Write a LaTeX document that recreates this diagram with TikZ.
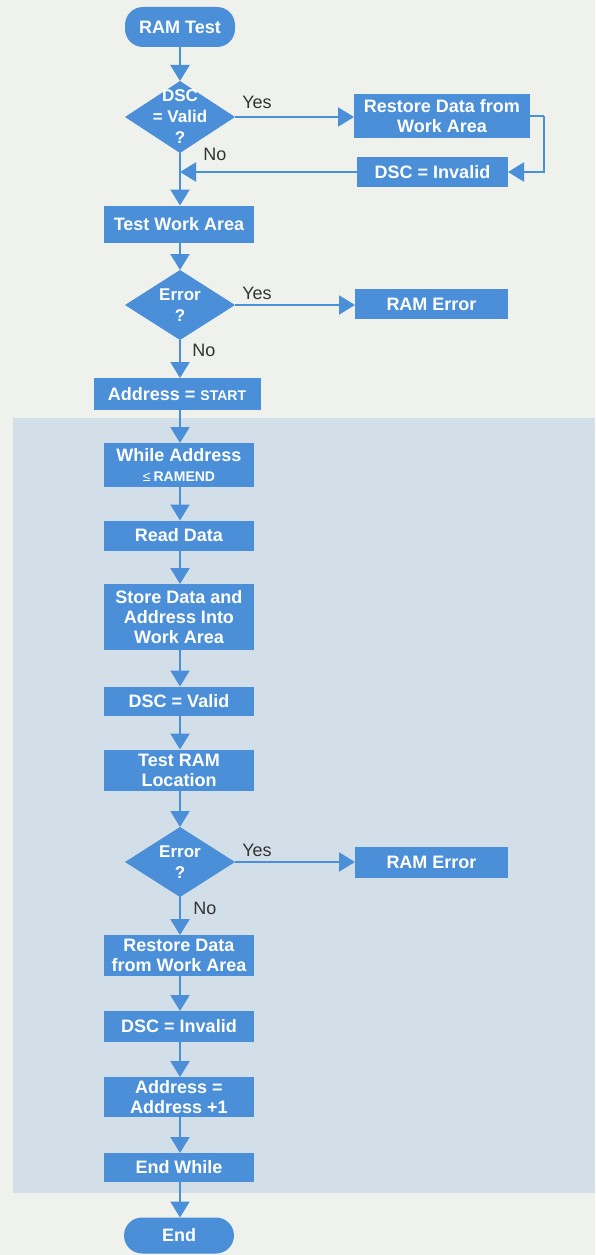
\documentclass[tikz,border=0pt]{standalone}
\usepackage{fontspec}
\setmainfont{Liberation Sans}
\usetikzlibrary{shapes.geometric,arrows.meta}
\definecolor{bgc}{HTML}{EFF1EC}
\definecolor{shadec}{HTML}{D3DFE8}
\definecolor{boxblue}{HTML}{4A8FD8}
\definecolor{lblc}{HTML}{333333}
\tikzset{
  box/.style={rectangle, fill=boxblue, text=white, font=\bfseries\fontsize{18}{20}\selectfont, align=center, minimum width=150pt, inner sep=0pt, outer sep=0pt},
  pill/.style={box, rounded corners=18pt, minimum width=110pt},
  dia/.style={diamond, fill=boxblue, minimum width=110pt, minimum height=72pt, inner sep=0pt, outer sep=0pt},
  dtext/.style={text=white, font=\bfseries\fontsize{17}{21}\selectfont, align=center, inner sep=0pt},
  yn/.style={text=lblc, font=\fontsize{18}{20}\selectfont, inner sep=0pt},
  flow/.style={draw=boxblue, line width=2.3pt, -{Triangle[width=19pt,length=16pt]}},
  link/.style={draw=boxblue, line width=2.3pt}
}
\newcommand{\sm}[1]{{\fontsize{14}{16}\selectfont #1}}
\begin{document}
\begin{tikzpicture}[x=1pt,y=-1pt]
\fill[bgc] (0,0) rectangle (595,1255);
\useasboundingbox (0,0) rectangle (595,1255);
\fill[shadec] (13,418) rectangle (595,1193);

% top part
\node[pill, minimum height=40pt] (start) at (180,27) {RAM Test};
\node[dia] (d1) at (180,117) {};
\node[dtext] (d1t) at (180,117) {DSC\\= Valid\\?};
\node[box, minimum width=176pt, minimum height=44pt] (rest1) at (442,116) {Restore Data from\\Work Area};
\node[box, minimum width=151pt, minimum height=30pt] (inv1) at (432.5,172) {DSC = Invalid};
\coordinate (r1) at (544,116);
\coordinate (j1) at (180,172);
\node[box, minimum height=37pt] (twa) at (179,224) {Test Work Area};
\node[dia, minimum height=70pt] (d2) at (180,305) {};
\node[dtext] (d2t) at (180,305) {Error\\?};
\node[box, minimum width=153pt, minimum height=30pt] (err1) at (431.5,304) {RAM Error};
\node[box, minimum width=167pt, minimum height=32pt] (sa) at (177,394) {Address = \sm{START}};

% loop
\node[box, minimum height=44pt] (wh) at (179,465) {While Address\\{\mdseries\sm{≤}}\,\sm{RAMEND}};
\node[box, minimum height=30pt] (rd) at (179,535.5) {Read Data};
\node[box, minimum height=66pt] (st) at (179,617) {Store Data and\\Address Into\\Work Area};
\node[box, minimum height=29pt] (dv) at (179,701) {DSC = Valid};
\node[box, minimum height=41pt] (tr) at (179,770) {Test RAM\\Location};
\node[dia, minimum height=70pt] (d3) at (180,862) {};
\node[dtext] (d3t) at (180,862) {Error\\?};
\node[box, minimum width=153pt, minimum height=31pt] (err2) at (431.5,862) {RAM Error};
\node[box, minimum height=41pt] (rest2) at (179,955.5) {Restore Data\\from Work Area};
\node[box, minimum height=31pt] (inv2) at (179,1026.5) {DSC = Invalid};
\node[box, minimum height=40pt] (ad1) at (179,1097) {Address =\\Address +1};
\node[box, minimum height=29pt] (ew) at (179,1167.5) {End While};
\node[pill, minimum height=36pt] (en) at (179,1235.5) {End};

% labels
\node[yn] at (257,102) {Yes};
\node[yn] at (215,154) {No};
\node[yn] at (257,293) {Yes};
\node[yn] at (204,350) {No};
\node[yn] at (257,850) {Yes};
\node[yn] at (205,908) {No};

% connectors
\draw[flow] (start) -- (d1);
\draw[flow] (d1.east) -- (rest1.west |- d1.east);
\draw[link] (rest1.east) -- (r1);
\draw[flow] (r1) |- (inv1.east);
\draw[flow] (inv1.west) -- (j1);
\draw[flow] (d1.south) -- (d1.south |- twa.north);
\draw[flow] (twa.south -| d2.north) -- (d2.north);
\draw[flow] (d2.east) -- (err1.west |- d2.east);
\draw[flow] (d2.south) -- (d2.south |- sa.north);
\draw[flow] (sa.south -| d2.south) -- (d2.south |- wh.north);
\draw[flow] (wh.south -| d2.south) -- (d2.south |- rd.north);
\draw[flow] (rd.south -| d2.south) -- (d2.south |- st.north);
\draw[flow] (st.south -| d2.south) -- (d2.south |- dv.north);
\draw[flow] (dv.south -| d2.south) -- (d2.south |- tr.north);
\draw[flow] (tr.south -| d3.north) -- (d3.north);
\draw[flow] (d3.east) -- (err2.west |- d3.east);
\draw[flow] (d3.south) -- (d3.south |- rest2.north);
\draw[flow] (rest2.south -| d3.south) -- (d3.south |- inv2.north);
\draw[flow] (inv2.south -| d3.south) -- (d3.south |- ad1.north);
\draw[flow] (ad1.south -| d3.south) -- (d3.south |- ew.north);
\draw[flow] (ew.south -| d3.south) -- (d3.south |- en.north);
\end{tikzpicture}
\end{document}
